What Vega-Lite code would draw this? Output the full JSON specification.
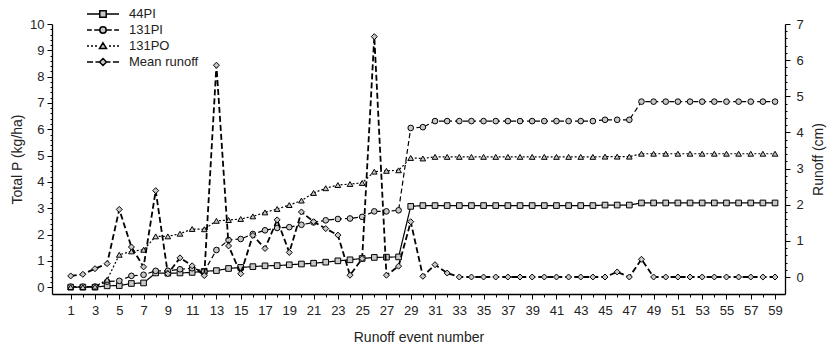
{
  "$schema": "https://vega.github.io/schema/vega-lite/v6.json",
  "width": 733,
  "height": 270,
  "autosize": "none",
  "padding": {"left": 52, "top": 24, "right": 51, "bottom": 50},
  "background": "white",
  "config": {
    "font": "Liberation Sans",
    "view": {"stroke": null},
    "axis": {
      "domainColor": "black", "tickColor": "black", "labelColor": "#222", "titleColor": "#222",
      "grid": false, "labelFont": "Liberation Sans", "titleFont": "Liberation Sans",
      "titleFontWeight": "normal", "labelFontSize": 13, "titleFontSize": 14,
      "domainWidth": 1.3, "tickWidth": 1, "labelOverlap": false, "labelFlush": false, "labelBound": false
    }
  },
  "data": {"values": [
    {"event": 1, "44PI": 0, "131PI": 0.02, "131PO": 0, "runoff": 0.03},
    {"event": 2, "44PI": 0, "131PI": 0.02, "131PO": 0, "runoff": 0.075},
    {"event": 3, "44PI": 0, "131PI": 0.02, "131PO": 0.02, "runoff": 0.23},
    {"event": 4, "44PI": 0.05, "131PI": 0.21, "131PO": 0.28, "runoff": 0.37},
    {"event": 5, "44PI": 0.06, "131PI": 0.24, "131PO": 1.23, "runoff": 1.87},
    {"event": 6, "44PI": 0.14, "131PI": 0.43, "131PO": 1.36, "runoff": 0.83},
    {"event": 7, "44PI": 0.16, "131PI": 0.47, "131PO": 1.42, "runoff": 0.28},
    {"event": 8, "44PI": 0.54, "131PI": 0.62, "131PO": 1.93, "runoff": 2.39},
    {"event": 9, "44PI": 0.53, "131PI": 0.62, "131PO": 1.93, "runoff": 0.09},
    {"event": 10, "44PI": 0.54, "131PI": 0.68, "131PO": 2.03, "runoff": 0.53},
    {"event": 11, "44PI": 0.56, "131PI": 0.72, "131PO": 2.21, "runoff": 0.31},
    {"event": 12, "44PI": 0.6, "131PI": 0.6, "131PO": 2.2, "runoff": 0.04},
    {"event": 13, "44PI": 0.63, "131PI": 1.41, "131PO": 2.52, "runoff": 5.86},
    {"event": 14, "44PI": 0.71, "131PI": 1.79, "131PO": 2.55, "runoff": 0.86},
    {"event": 15, "44PI": 0.75, "131PI": 1.83, "131PO": 2.59, "runoff": 0.09},
    {"event": 16, "44PI": 0.78, "131PI": 2.02, "131PO": 2.69, "runoff": 1.15},
    {"event": 17, "44PI": 0.81, "131PI": 2.16, "131PO": 2.84, "runoff": 0.79},
    {"event": 18, "44PI": 0.82, "131PI": 2.25, "131PO": 2.97, "runoff": 1.58},
    {"event": 19, "44PI": 0.85, "131PI": 2.28, "131PO": 3.12, "runoff": 0.68},
    {"event": 20, "44PI": 0.88, "131PI": 2.37, "131PO": 3.29, "runoff": 1.8},
    {"event": 21, "44PI": 0.91, "131PI": 2.46, "131PO": 3.58, "runoff": 1.53},
    {"event": 22, "44PI": 0.95, "131PI": 2.54, "131PO": 3.76, "runoff": 1.34},
    {"event": 23, "44PI": 1.0, "131PI": 2.59, "131PO": 3.88, "runoff": 1.16},
    {"event": 24, "44PI": 1.04, "131PI": 2.61, "131PO": 3.92, "runoff": 0.05},
    {"event": 25, "44PI": 1.09, "131PI": 2.67, "131PO": 3.96, "runoff": 0.51},
    {"event": 26, "44PI": 1.13, "131PI": 2.88, "131PO": 4.39, "runoff": 6.65},
    {"event": 27, "44PI": 1.14, "131PI": 2.88, "131PO": 4.42, "runoff": 0.05},
    {"event": 28, "44PI": 1.15, "131PI": 2.92, "131PO": 4.44, "runoff": 0.3},
    {"event": 29, "44PI": 3.07, "131PI": 6.05, "131PO": 4.91, "runoff": 1.53},
    {"event": 30, "44PI": 3.1, "131PI": 6.08, "131PO": 4.89, "runoff": 0.02},
    {"event": 31, "44PI": 3.1, "131PI": 6.31, "131PO": 4.95, "runoff": 0.34},
    {"event": 32, "44PI": 3.1, "131PI": 6.31, "131PO": 4.95, "runoff": 0.11},
    {"event": 33, "44PI": 3.1, "131PI": 6.31, "131PO": 4.95, "runoff": 0},
    {"event": 34, "44PI": 3.1, "131PI": 6.31, "131PO": 4.95, "runoff": 0},
    {"event": 35, "44PI": 3.1, "131PI": 6.31, "131PO": 4.95, "runoff": 0},
    {"event": 36, "44PI": 3.1, "131PI": 6.31, "131PO": 4.95, "runoff": 0},
    {"event": 37, "44PI": 3.1, "131PI": 6.31, "131PO": 4.95, "runoff": 0},
    {"event": 38, "44PI": 3.1, "131PI": 6.31, "131PO": 4.95, "runoff": 0},
    {"event": 39, "44PI": 3.1, "131PI": 6.31, "131PO": 4.95, "runoff": 0},
    {"event": 40, "44PI": 3.1, "131PI": 6.31, "131PO": 4.95, "runoff": 0},
    {"event": 41, "44PI": 3.1, "131PI": 6.31, "131PO": 4.95, "runoff": 0},
    {"event": 42, "44PI": 3.1, "131PI": 6.31, "131PO": 4.95, "runoff": 0},
    {"event": 43, "44PI": 3.1, "131PI": 6.31, "131PO": 4.95, "runoff": 0},
    {"event": 44, "44PI": 3.1, "131PI": 6.31, "131PO": 4.95, "runoff": 0},
    {"event": 45, "44PI": 3.12, "131PI": 6.36, "131PO": 4.96, "runoff": 0},
    {"event": 46, "44PI": 3.12, "131PI": 6.36, "131PO": 4.96, "runoff": 0.14},
    {"event": 47, "44PI": 3.12, "131PI": 6.36, "131PO": 4.96, "runoff": 0},
    {"event": 48, "44PI": 3.2, "131PI": 7.05, "131PO": 5.07, "runoff": 0.49},
    {"event": 49, "44PI": 3.2, "131PI": 7.05, "131PO": 5.07, "runoff": 0},
    {"event": 50, "44PI": 3.2, "131PI": 7.05, "131PO": 5.07, "runoff": 0},
    {"event": 51, "44PI": 3.2, "131PI": 7.05, "131PO": 5.07, "runoff": 0},
    {"event": 52, "44PI": 3.2, "131PI": 7.05, "131PO": 5.07, "runoff": 0},
    {"event": 53, "44PI": 3.2, "131PI": 7.05, "131PO": 5.07, "runoff": 0},
    {"event": 54, "44PI": 3.2, "131PI": 7.05, "131PO": 5.07, "runoff": 0},
    {"event": 55, "44PI": 3.2, "131PI": 7.05, "131PO": 5.07, "runoff": 0},
    {"event": 56, "44PI": 3.2, "131PI": 7.05, "131PO": 5.07, "runoff": 0},
    {"event": 57, "44PI": 3.2, "131PI": 7.05, "131PO": 5.07, "runoff": 0},
    {"event": 58, "44PI": 3.2, "131PI": 7.05, "131PO": 5.07, "runoff": 0},
    {"event": 59, "44PI": 3.2, "131PI": 7.05, "131PO": 5.07, "runoff": 0}
  ]},
  "encoding": {
    "x": {
      "field": "event", "type": "quantitative",
      "scale": {"domain": [-0.54, 59.82], "nice": false, "zero": false},
      "axis": {
        "title": "Runoff event number",
        "values": [1,2,3,4,5,6,7,8,9,10,11,12,13,14,15,16,17,18,19,20,21,22,23,24,25,26,27,28,29,30,31,32,33,34,35,36,37,38,39,40,41,42,43,44,45,46,47,48,49,50,51,52,53,54,55,56,57,58,59],
        "labelExpr": "datum.value % 2 == 1 ? datum.label : ''",
        "tickSize": {"condition": {"test": "datum.value % 2 == 1", "value": 5}, "value": 3},
        "labelPadding": 5,
        "titlePadding": 13
      }
    }
  },
  "layer": [
    {
      "transform": [{"fold": ["44PI", "131PI", "131PO"], "as": ["series", "value"]}],
      "encoding": {
        "y": {
          "field": "value", "type": "quantitative",
          "scale": {"domain": [-0.26, 10], "nice": false, "zero": false},
          "axis": {
            "title": "Total P (kg/ha)",
            "orient": "left",
            "values": [0,0.2,0.4,0.6,0.8,1,1.2,1.4,1.6,1.8,2,2.2,2.4,2.6,2.8,3,3.2,3.4,3.6,3.8,4,4.2,4.4,4.6,4.8,5,5.2,5.4,5.6,5.8,6,6.2,6.4,6.6,6.8,7,7.2,7.4,7.6,7.8,8,8.2,8.4,8.6,8.8,9,9.2,9.4,9.6,9.8,10],
            "labelExpr": "abs(datum.value - round(datum.value)) < 0.001 ? '' + round(datum.value) : ''",
            "tickSize": {"condition": {"test": "abs(datum.value - round(datum.value)) < 0.001", "value": 5}, "value": 2},
            "labelPadding": 3,
            "titlePadding": 5
          }
        }
      },
      "layer": [
        {
          "mark": {"type": "line", "color": "black", "strokeWidth": 1.2},
          "encoding": {
            "detail": {"field": "series"},
            "strokeDash": {
              "field": "series",
              "scale": {"domain": ["44PI", "131PI", "131PO"], "range": [[1, 0], [5, 3], [2, 2]]},
              "legend": null
            }
          }
        },
        {
          "mark": {"type": "point", "filled": true, "fill": "#c8c8c8", "stroke": "black", "strokeWidth": 1, "size": 32, "opacity": 1},
          "encoding": {
            "shape": {
              "field": "series",
              "scale": {"domain": ["44PI", "131PI", "131PO"], "range": ["square", "circle", "triangle-up"]},
              "legend": null
            }
          }
        }
      ]
    },
    {
      "encoding": {
        "y": {
          "field": "runoff", "type": "quantitative",
          "scale": {"domain": [-0.47, 7], "nice": false, "zero": false},
          "axis": {
            "title": "Runoff (cm)",
            "orient": "right",
            "titleAngle": 270,
            "titleBaseline": "top",
            "values": [0,0.2,0.4,0.6,0.8,1,1.2,1.4,1.6,1.8,2,2.2,2.4,2.6,2.8,3,3.2,3.4,3.6,3.8,4,4.2,4.4,4.6,4.8,5,5.2,5.4,5.6,5.8,6,6.2,6.4,6.6,6.8,7],
            "labelExpr": "abs(datum.value - round(datum.value)) < 0.001 ? '' + round(datum.value) : ''",
            "tickSize": {"condition": {"test": "abs(datum.value - round(datum.value)) < 0.001", "value": 5}, "value": 2},
            "labelPadding": 6,
            "titlePadding": 8
          }
        }
      },
      "layer": [
        {"mark": {"type": "line", "color": "black", "strokeWidth": 1.8, "strokeDash": [6, 3]}},
        {"mark": {"type": "point", "shape": "diamond", "filled": true, "fill": "#c8c8c8", "stroke": "black", "strokeWidth": 1, "size": 36, "opacity": 1}}
      ]
    },
    {
      "transform": [
        {"fold": ["44PI", "131PI", "131PO"], "as": ["series", "value"]},
        {"filter": "datum.event < 0"}
      ],
      "mark": {"type": "point", "filled": true, "fill": "#c8c8c8", "stroke": "black", "strokeWidth": 1.1, "opacity": 1},
      "encoding": {
        "shape": {
          "field": "series",
          "scale": {
            "domain": ["44PI", "131PI", "131PO", "Mean runoff"],
            "range": [
              "M-2,0H-0.4M0.4,0H2M-0.4,-0.4H0.4V0.4H-0.4Z",
              "M-2,0H-1.4M-1.1,0H-0.44M0.44,0H1.1M1.4,0H2M-0.4,0A0.4,0.4 0 1,0 0.4,0A0.4,0.4 0 1,0 -0.4,0Z",
              "M-2,0H-1.75M-1.5,0H-1.25M-1,0H-0.75M0.75,0H1M1.25,0H1.5M1.75,0H2M0,-0.4L0.44,0.32H-0.44Z",
              "M-2,0H-1.24M-0.94,0H-0.44M0.44,0H0.94M1.24,0H2M0,-0.44L0.44,0L0,0.44L-0.44,0Z"
            ]
          },
          "legend": {
            "title": null,
            "orient": "none",
            "legendX": 42,
            "legendY": -19,
            "padding": 0,
            "symbolSize": 256,
            "labelFontSize": 13,
            "labelFont": "Liberation Sans",
            "labelColor": "#222",
            "labelOffset": 17,
            "rowPadding": 0,
            "encode": {
              "symbols": {
                "stroke": {"value": "black"},
                "strokeWidth": {"value": 1.1},
                "fill": {"value": "#c8c8c8"},
                "opacity": {"value": 1}
              }
            }
          }
        }
      }
    }
  ],
  "resolve": {"scale": {"y": "independent", "shape": "independent"}}
}
